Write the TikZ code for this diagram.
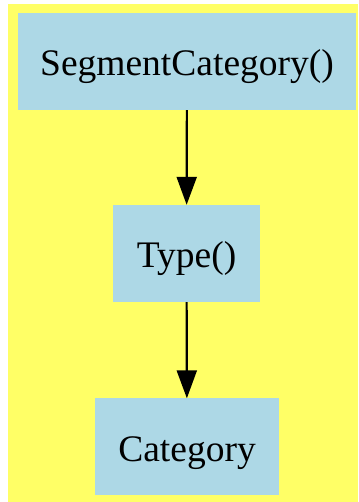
\documentclass[tikz,border=0pt]{standalone}
\usepackage{fontspec}
\setmainfont{Liberation Serif}
\usepackage{xcolor}
\definecolor{canvas}{HTML}{FFFF66}
\definecolor{boxblue}{HTML}{ADD8E6}
\usetikzlibrary{positioning, arrows.meta}
\tikzset{
    catbox/.style = {rectangle, fill=boxblue, draw=none, minimum height=97pt,
                     inner sep=0pt, text height=30pt, text depth=1pt,
                     font=\fontsize{37.5}{44}\selectfont},
    arrow/.style = {-{Triangle[length=28pt, width=20pt]}, line width=2.2pt, color=black},
}
\begin{document}
\begin{tikzpicture}[x=1pt, y=1pt]
        \useasboundingbox (0,0) rectangle (358,502);
        \fill[canvas] (8,0) rectangle (358,498);
        \node[catbox, minimum width=338pt] (SC) at (187,440.5) {SegmentCategory()};
        \node[catbox, minimum width=147pt] (T) at (186.5,248.5) {Type()};
        \node[catbox, minimum width=184pt] (C) at (187,55) {Category};
        \draw[arrow] (SC) -- (T);
        \draw[arrow] (T) -- (C);
      \end{tikzpicture}
\end{document}
